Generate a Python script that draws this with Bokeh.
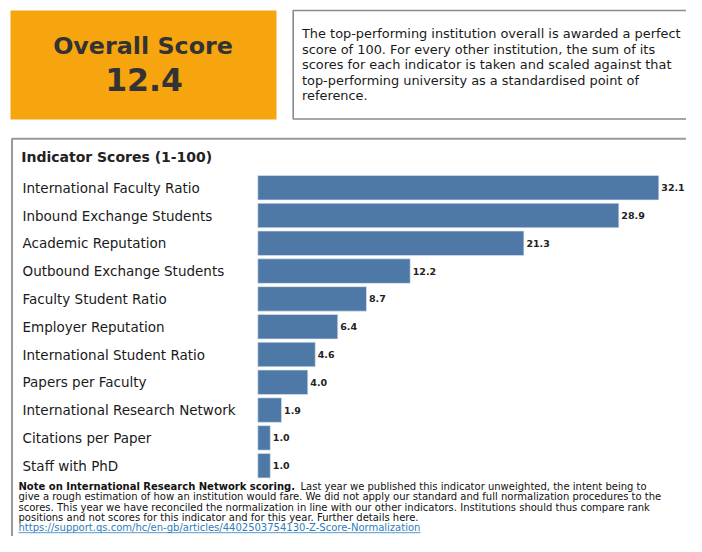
from bokeh.plotting import figure
from bokeh.models import Range1d
from bokeh.core.properties import value
from bokeh.embed import file_html
from bokeh.resources import INLINE

# ---------------- data ----------------
categories = [
    "International Faculty Ratio",
    "Inbound Exchange Students",
    "Academic Reputation",
    "Outbound Exchange Students",
    "Faculty Student Ratio",
    "Employer Reputation",
    "International Student Ratio",
    "Papers per Faculty",
    "International Research Network",
    "Citations per Paper",
    "Staff with PhD",
]
scores = [32.1, 28.9, 21.3, 12.2, 8.7, 6.4, 4.6, 4.0, 1.9, 1.0, 1.0]
overall_label = "Overall Score"
overall_score = 12.4
chart_title = "Indicator Scores (1-100)"
info_lines = [
    "The top-performing institution overall is awarded a perfect",
    "score of 100. For every other institution, the sum of its",
    "scores for each indicator is taken and scaled against that",
    "top-performing university as a standardised point of",
    "reference.",
]
note_bold = "Note on International Research Network scoring."
note_lines = [
    "Last year we published this indicator unweighted, the intent being to",
    "give a rough estimation of how an institution would fare. We did not apply our standard and full normalization procedures to the",
    "scores. This year we have reconciled the normalization in line with our other indicators. Institutions should thus compare rank",
    "positions and not scores for this indicator and for this year. Further details here.",
]
note_link = "https://support.qs.com/hc/en-gb/articles/4402503754130-Z-Score-Normalization"

# ---------------- layout constants (pixels) ----------------
W, H = 686, 536
FONT = value("DejaVu Sans")
BAR_X0 = 257.3          # pixel of score 0
PPU = 12.492            # pixels per score unit
ROW0 = 187.2            # pixel centre of first row
ROW_STEP = 27.8

p = figure(width=W, height=H, output_backend="svg", toolbar_location=None,
           x_range=Range1d(0, W), y_range=Range1d(H, 0),
           x_axis_location=None, y_axis_location=None, min_border=0,
           outline_line_color=None, background_fill_color="white",
           border_fill_color="white")
p.grid.visible = False
p.extra_x_ranges = {"score": Range1d(-BAR_X0 / PPU, (W - BAR_X0) / PPU)}
p.extra_y_ranges = {"row": Range1d((H - ROW0) / ROW_STEP, -ROW0 / ROW_STEP)}

# ---- overall score box ----
p.quad(left=10, right=276, top=10, bottom=119, fill_color="#F6A50F", line_color=None)
p.text(x=[142.5], y=[45], text=[overall_label], text_font=FONT, text_font_size="23.8px",
       text_font_style="bold", text_color="#333333", text_align="center", text_baseline="middle")
p.text(x=[143.5], y=[78.5], text=[f"{overall_score:.1f}"], text_font=FONT, text_font_size="31.5px",
       text_font_style="bold", text_color="#333333", text_align="center", text_baseline="middle")

# ---- info box ----
p.quad(left=292.7, right=760, top=10, bottom=118.5, fill_color="white",
       line_color="#8a8a8a", line_width=1.6)
p.text(x=301.5, y=[33.3 + 15.4 * i for i in range(len(info_lines))], text=info_lines,
       text_font=FONT, text_font_size="12.9px", text_color="#1a1a1a", text_baseline="middle")

# ---- indicator box ----
p.quad(left=11.5, right=760, top=138.3, bottom=700, fill_color=None,
       line_color="#9a9a9a", line_width=2)
p.text(x=[20.7], y=[156.5], text=[chart_title], text_font=FONT, text_font_size="14px",
       text_font_style="bold", text_color="#222222", text_baseline="middle")

rows = list(range(len(categories)))
p.hbar(y=rows, left=0, right=scores, height=0.88, x_range_name="score", y_range_name="row",
       fill_color="#4E78A6", line_color="#DDE6F0", line_width=0.6)
p.text(x=22, y=rows, text=categories, y_range_name="row", text_font=FONT,
       text_font_size="13.5px", text_color="#1a1a1a", text_baseline="middle")
p.text(x=scores, y=rows, text=[f"{v:.1f}" for v in scores], x_offset=2.5,
       x_range_name="score", y_range_name="row", text_font=FONT, text_font_size="9.5px",
       text_font_style="bold", text_color="#222222", text_baseline="middle")

# ---- note ----
NOTE_Y0, NOTE_STEP = 485.8, 10.35
NOTE_SIZE = "10px"
p.text(x=[18], y=[NOTE_Y0], text=[note_bold], text_font=FONT, text_font_size=NOTE_SIZE,
       text_font_style="bold", text_color="#111111", text_baseline="middle")
p.text(x=[300, 18, 18, 18], y=[NOTE_Y0 + NOTE_STEP * i for i in range(4)], text=note_lines,
       text_font=FONT, text_font_size=NOTE_SIZE, text_color="#111111", text_baseline="middle")
link_y = NOTE_Y0 + NOTE_STEP * 4
p.text(x=[18], y=[link_y], text=[note_link], text_font=FONT, text_font_size=NOTE_SIZE,
       text_color="#2F7DBA", text_baseline="middle")
p.segment(x0=[18], x1=[420], y0=[link_y + 5], y1=[link_y + 5], line_color="#2F7DBA", line_width=0.8)

open("out.html", "w").write(file_html(p, INLINE))
